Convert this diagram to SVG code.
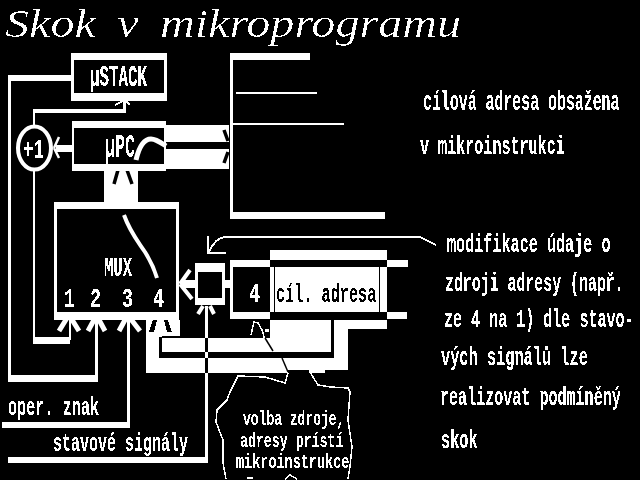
<svg xmlns="http://www.w3.org/2000/svg" width="640" height="480" viewBox="0 0 640 480">
<style>
text{font-family:"Liberation Mono","DejaVu Sans Mono",monospace;fill:#fff;filter:url(#bit);font-weight:700;white-space:pre}
.w{fill:#fff;shape-rendering:crispEdges}
.b{fill:#000;shape-rendering:crispEdges}
.thin{fill:none;stroke:#fff;stroke-width:1.5;shape-rendering:crispEdges}
.thinb{fill:none;stroke:#000;stroke-width:1.5}
.ch{fill:none;stroke:#fff;stroke-width:5}
.chb{fill:none;stroke:#000;stroke-width:3.500}
.f25{font-size:25px}
.f20{font-size:20px}
.f28{font-size:28px}
</style>
<defs>
<filter id="bit" x="-5%" y="-20%" width="110%" height="140%" color-interpolation-filters="sRGB">
<feComponentTransfer><feFuncA type="discrete" tableValues="0 0 1 1"/></feComponentTransfer>
</filter>
<filter id="bit2" x="-5%" y="-20%" width="110%" height="140%" color-interpolation-filters="sRGB">
<feComponentTransfer><feFuncA type="discrete" tableValues="0 0 0 1"/></feComponentTransfer>
</filter>
</defs>
<rect width="640" height="480" fill="#000"/>
<text id="title" x="5" y="37" textLength="456" lengthAdjust="spacingAndGlyphs" style="font-family:'Liberation Serif',serif;font-style:italic;font-weight:400;font-size:41px;word-spacing:8px;filter:url(#bit2)">Skok v mikroprogramu</text>

<g id="connectors">
<path class="w" d="M146 320H180V336H162V338H270V320H387V329H348V370H288V373H146Z"/>
<rect class="w" x="309" y="370" width="16" height="3"/>
<rect class="b" x="159" y="337" width="3" height="21"/>
<rect class="b" x="159" y="352" width="175" height="6"/>
<rect class="b" x="331" y="320" width="3" height="38"/>
<path class="b" d="M153 320H157L154 332H149Z M164 320H168L172 332H167Z"/>
<rect class="w" x="8" y="75" width="63" height="6"/>
<rect class="w" x="8" y="75" width="3" height="307"/>
<rect class="w" x="8" y="375" width="90" height="7"/>
<rect class="w" x="95" y="320" width="3" height="60"/>
<rect class="w" x="33" y="109" width="93" height="4"/>
<rect class="w" x="123" y="101" width="3" height="10"/>
<path class="thin" d="M115 105L123 101M126 101L130 105" style="stroke-width:2"/>
<rect class="w" x="33" y="109" width="2" height="18"/>
<rect class="w" x="33" y="168" width="2" height="172"/>
<rect class="w" x="33" y="337" width="37" height="7"/>
<rect class="w" x="69" y="320" width="2" height="20"/>
<rect class="w" x="127" y="320" width="3" height="108"/>
<rect class="w" x="2" y="422" width="128" height="6"/>
<rect class="w" x="8" y="457" width="200" height="6"/>
<rect class="w" x="205" y="306" width="3" height="152"/>
<rect class="b" x="205" y="338" width="3" height="14"/>
<rect class="b" x="205" y="358" width="3" height="15"/>
<path class="ch" d="M59 331L67 318 M79 331L71 318"/>
<path class="ch" d="M88 331L95 318 M105 331L98 318"/>
<path class="ch" d="M119 331L126 318 M140 331L130 318"/>
<rect class="w" x="104" y="170" width="34" height="33"/>
<path class="chb" d="M118 170L114 184 M127 170L132 184"/>
<rect class="w" x="56" y="145" width="16" height="7"/>
<path class="ch" d="M54 148L59 137 M54 148L59 158" style="stroke-width:2.500"/>
<rect class="w" x="166" y="125" width="63" height="17"/>
<rect class="w" x="166" y="149" width="63" height="20"/>
<path class="chb" d="M224 130L228 141 M224 163L228 152"/>
<rect class="w" x="225" y="280" width="6" height="8"/>
<rect class="w" x="181" y="280" width="15" height="8"/>
<path class="ch" d="M180 284L190 270 M180 284L192 299" style="stroke-width:4"/>
<path class="ch" d="M198 314L203 306 M214 314L210 306" style="stroke-width:4"/>
<path class="thin" style="stroke-width:2" d="M436 245L420 237H225C216 238 212 245 209 252M208 236V253H226"/>
</g>

<g id="ustack">
<rect class="w" x="71" y="53" width="96" height="48"/>
<rect class="b" x="74" y="60" width="90" height="33"/>
<text transform="translate(90 86) scale(.546 1)" style="font-size:29px">µSTACK</text>
</g>
<g id="upc">
<rect class="w" x="72" y="121" width="94" height="50"/>
<rect class="b" x="74" y="128" width="90" height="36"/>
<text transform="translate(105 157) scale(.505 1)" style="font-size:33px">µPC</text>
<path d="M136 160C139 147 144 139 151 139C156 139 160 142 166 146" fill="none" stroke="#fff" stroke-width="5"/>
</g>
<g id="plus1">
<ellipse cx="34.500" cy="148" rx="16.500" ry="21.500" fill="#000" stroke="#fff" stroke-width="4"/>
<text transform="translate(23 158) scale(.648 1)" style="font-size:27px">+1</text>
</g>
<g id="mux">
<rect class="w" x="54" y="202" width="125" height="118"/>
<rect class="b" x="57" y="209" width="119" height="103"/>
<path d="M124 215C130 232 137 240 145 252C150 260 154 268 157 278" fill="none" stroke="#fff" stroke-width="4"/>
<text class="f28" transform="translate(104 276) scale(.555 1)">MUX</text>
<text class="f28" transform="translate(64 307) scale(.655 1)">1</text>
<text class="f28" transform="translate(90 307) scale(.655 1)">2</text>
<text class="f28" transform="translate(122 307) scale(.655 1)">3</text>
<text class="f28" transform="translate(153 307) scale(.655 1)">4</text>
</g>
<g id="switch">
<rect class="w" x="195" y="263" width="30" height="42"/>
<rect class="b" x="198" y="272" width="24" height="26"/>
</g>
<g id="addr">
<rect class="w" x="230" y="260" width="40" height="59"/>
<rect class="b" x="233" y="267" width="37" height="45"/>
<rect class="w" x="270" y="250" width="117" height="10"/>
<rect class="b" x="270" y="260" width="117" height="7"/>
<rect class="w" x="270" y="267" width="117" height="45"/>
<rect class="b" x="270" y="312" width="117" height="8"/>
<rect class="b" x="274" y="267" width="1" height="45"/>
<rect class="b" x="379" y="267" width="1" height="45"/>
<rect class="w" x="387" y="260" width="21" height="7"/>
<rect class="w" x="387" y="312" width="20" height="7"/>
<text class="f28" transform="translate(249 302) scale(.655 1)">4</text>
<text class="f25" transform="translate(276 302) scale(.608 1)" style="fill:#000">cíl. adresa</text>
</g>
<g id="memory">
<rect class="w" x="230" y="53" width="3" height="166"/>
<rect class="w" x="230" y="53" width="80" height="7"/>
<rect class="w" x="230" y="212" width="155" height="7"/>
<rect class="w" x="236" y="92" width="81" height="2"/>
<rect class="w" x="233" y="123" width="111" height="2"/>
</g>
<g id="cloud">
<path class="thin" d="M251 335L254 322L258 323L262 330L265 340"/>
<rect class="w" x="265" y="329" width="4" height="3"/>
<path class="thinb" d="M265 338L273 351"/>
<path class="thinb" d="M282 358L288 372"/>
<path class="thin" d="M288 373L285 383L265 377L238 376L230 392L227 400L217 410L216 422L223 440L223 463L226 479"/>
<path class="thin" d="M247 478H253M285 479L290 475L297 479"/>
<path class="thin" d="M310 372L318 385L330 387L348 388L350 392L348 420L352 447L350 467L348 479"/>
<text class="f20" transform="translate(243 425) scale(.65 1)">volba zdroje,</text>
<text class="f20" transform="translate(240 447) scale(.663 1)">adresy prístí</text>
<text class="f20" transform="translate(236 468) scale(.675 1)">mikroinstrukce</text>
</g>
<g id="labels">
<text class="f25" transform="translate(8 415) scale(.608 1)">oper. znak</text>
<text class="f25" transform="translate(53 451) scale(.6 1)">stavové signály</text>
<text transform="translate(423 110) scale(.532 1)" style="font-size:28px">cílová adresa obsažena</text>
<text transform="translate(420 154) scale(.58 1)" style="font-size:26px">v mikroinstrukci</text>
<text class="f25" transform="translate(447 252) scale(.606 1)">modifikace údaje o</text>
<text class="f25" transform="translate(445 291) scale(.596 1)">zdroji adresy (např.</text>
<text class="f25" transform="translate(444 327) scale(.602 1)">ze 4 na 1) dle stavo-</text>
<text class="f25" transform="translate(441 365) scale(.612 1)">vých signálů lze</text>
<text class="f25" transform="translate(440 405) scale(.603 1)">realizovat podmíněný</text>
<text class="f25" transform="translate(441 448) scale(.612 1)">skok</text>
</g>
</svg>
